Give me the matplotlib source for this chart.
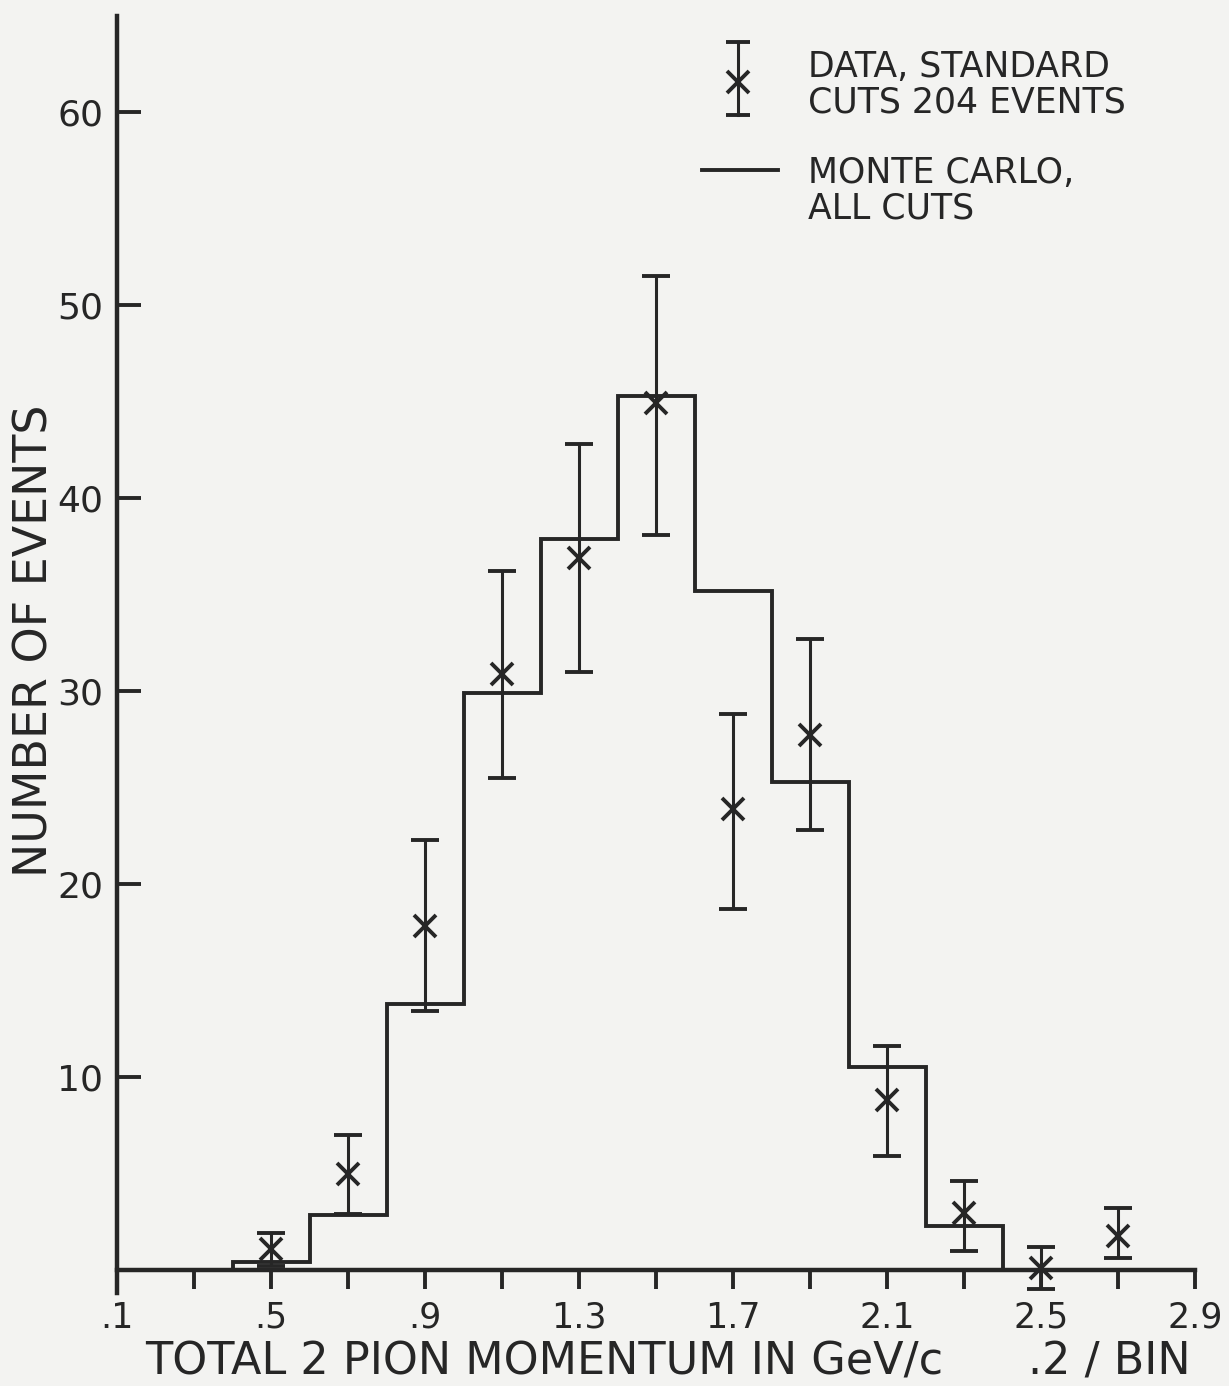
import numpy as np
import matplotlib.pyplot as plt

# monte carlo histogram, 0.2 GeV/c bins
mc_edges = [0.4, 0.6, 0.8, 1.0, 1.2, 1.4, 1.6, 1.8, 2.0, 2.2, 2.4]
mc_counts = [0.4, 2.85, 13.8, 29.9, 37.9, 45.3, 35.2, 25.3, 10.5, 2.3]

# measured events at bin centres, with lower / upper ends of the error bars
data_p = [0.5, 0.7, 0.9, 1.1, 1.3, 1.5, 1.7, 1.9, 2.1, 2.3, 2.5, 2.7]
data_n = [1.1, 5.0, 17.8, 30.9, 36.9, 44.9, 23.9, 27.7, 8.8, 2.95, 0.1, 1.76]
data_lo = [0.2, 2.9, 13.4, 25.5, 31.0, 38.1, 18.7, 22.8, 5.9, 1.0, -1.0, 0.6]
data_hi = [1.9, 7.0, 22.3, 36.2, 42.8, 51.5, 28.8, 32.7, 11.6, 4.6, 1.2, 3.2]

x_major = [0.1, 0.5, 0.9, 1.3, 1.7, 2.1, 2.5, 2.9]
x_major_labels = ['.1', '.5', '.9', '1.3', '1.7', '2.1', '2.5', '2.9']
x_minor = [0.3, 0.7, 1.1, 1.5, 1.9, 2.3, 2.7]
y_ticks = [10, 20, 30, 40, 50, 60]

ink = '#262626'
paper = '#f3f3f1'

plt.rcParams['font.family'] = 'DejaVu Sans'

fig = plt.figure(figsize=(12.29, 13.86), dpi=100, facecolor=paper)
ax = fig.add_axes([117 / 1229, 1 - 1293.2 / 1386, 1078 / 1229, 1277.7 / 1386])
ax.set_facecolor(paper)

ax.stairs(mc_counts, mc_edges, baseline=0, color=ink, linewidth=2.8)

n = np.array(data_n)
yerr = [n - np.array(data_lo), np.array(data_hi) - n]
ax.errorbar(data_p, data_n, yerr=yerr, fmt='x', color=ink, ms=16, mew=2.8,
            elinewidth=2.2, capsize=10, capthick=2.8, clip_on=False, zorder=3)

ax.set_xlim(0.1, 2.9)
ax.set_ylim(-1.2, 65.0)

for side in ['top', 'right']:
    ax.spines[side].set_visible(False)
ax.spines['left'].set_position(('data', 0.1))
ax.spines['bottom'].set_position(('data', 0))
ax.spines['bottom'].set_bounds(0.1, 2.9)
for side in ['left', 'bottom']:
    ax.spines[side].set_linewidth(3.2)
    ax.spines[side].set_color(ink)

ax.set_xticks(x_major)
ax.set_xticklabels(x_major_labels)
ax.set_xticks(x_minor, minor=True)
ax.set_yticks(y_ticks)
ax.tick_params(axis='x', which='both', direction='out', length=14, width=2.8,
               color=ink, labelcolor=ink, labelsize=25, pad=8)
ax.tick_params(axis='y', direction='in', length=17, width=2.8, color=ink,
               labelcolor=ink, labelsize=26, pad=10)

# legend, drawn by hand in axes fraction
tr = ax.transAxes
ax.plot([0.576, 0.576], [0.922, 0.979], color=ink, lw=2.2, transform=tr)
ax.plot([0.576, 0.576], [0.922, 0.979], ls='none', marker='_', ms=17, mew=2.8,
        color=ink, transform=tr)
ax.plot([0.576], [0.948], ls='none', marker='x', ms=16, mew=2.8, color=ink,
        transform=tr)
ax.text(0.641, 0.946, 'DATA, STANDARD\nCUTS 204 EVENTS', transform=tr,
        fontsize=25, color=ink, va='center', ha='left', linespacing=1.05)
ax.plot([0.543, 0.613], [0.879, 0.879], color=ink, lw=2.8, transform=tr)
ax.text(0.641, 0.863, 'MONTE CARLO,\nALL CUTS', transform=tr,
        fontsize=25, color=ink, va='center', ha='left', linespacing=1.05)

fig.text(145 / 1229, 1 - 1362 / 1386, 'TOTAL 2 PION MOMENTUM IN GeV/c',
         fontsize=32, color=ink, ha='left', va='center')
fig.text(1028 / 1229, 1 - 1362 / 1386, '.2 / BIN', fontsize=32, color=ink,
         ha='left', va='center')
fig.text(35 / 1229, 1 - 641 / 1386, 'NUMBER OF EVENTS', fontsize=33,
         color=ink, rotation=90, ha='center', va='center')

fig.savefig('out.png', dpi=100, facecolor=paper)
